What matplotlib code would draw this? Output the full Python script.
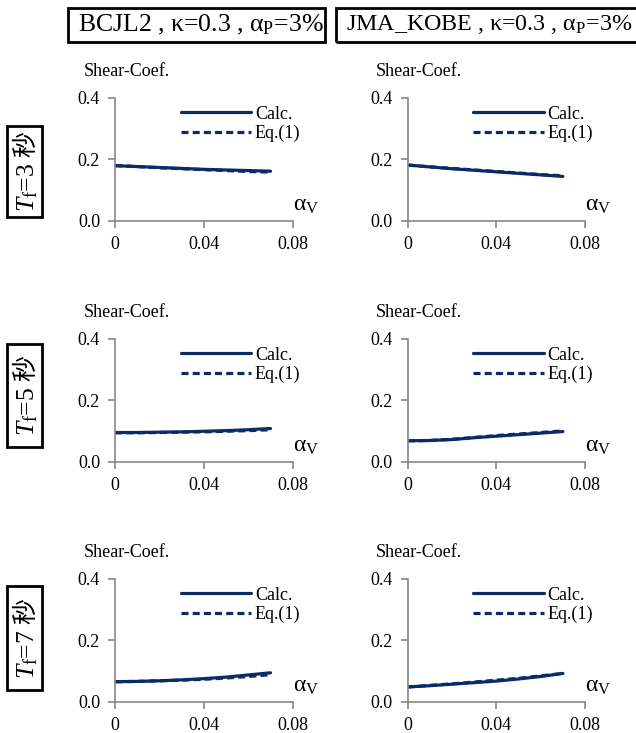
import matplotlib
matplotlib.use("Agg")
import matplotlib.pyplot as plt
from matplotlib.patches import Rectangle
import numpy as np

plt.rcParams['font.family'] = ['Liberation Serif', 'Noto Sans CJK JP']
plt.rcParams['mathtext.fontset'] = 'custom'
plt.rcParams['mathtext.rm'] = 'Liberation Serif'
plt.rcParams['mathtext.it'] = 'Liberation Serif:italic'
plt.rcParams['mathtext.bf'] = 'Liberation Serif:bold'
plt.rcParams['mathtext.sf'] = 'Noto Sans CJK JP'

alpha_v = [0.0, 0.01, 0.02, 0.03, 0.04, 0.05, 0.06, 0.07]

titles = ["BCJL2 , κ=0.3 , α$_\\mathregular{P}$=3%",
          "JMA_KOBE , κ=0.3 , α$_\\mathregular{P}$=3%"]
row_labels = ["3", "5", "7"]

# Calc. and Eq.(1) values: [row][col]
calc = [
    [[0.179, 0.176, 0.173, 0.170, 0.167, 0.165, 0.163, 0.161],
     [0.181, 0.175, 0.169, 0.164, 0.159, 0.154, 0.149, 0.144]],
    [[0.095, 0.095, 0.096, 0.097, 0.099, 0.101, 0.104, 0.108],
     [0.068, 0.069, 0.072, 0.078, 0.083, 0.088, 0.093, 0.098]],
    [[0.065, 0.066, 0.068, 0.071, 0.075, 0.080, 0.087, 0.094],
     [0.048, 0.052, 0.057, 0.062, 0.067, 0.074, 0.082, 0.092]],
]
eq1 = [
    [[0.179, 0.176, 0.172, 0.169, 0.166, 0.163, 0.160, 0.158],
     [0.181, 0.175, 0.170, 0.165, 0.160, 0.155, 0.150, 0.146]],
    [[0.094, 0.094, 0.095, 0.096, 0.097, 0.099, 0.101, 0.104],
     [0.068, 0.069, 0.073, 0.079, 0.085, 0.090, 0.095, 0.100]],
    [[0.065, 0.066, 0.068, 0.070, 0.073, 0.077, 0.082, 0.088],
     [0.048, 0.053, 0.058, 0.064, 0.070, 0.076, 0.084, 0.092]],
]

W, H = 636, 733
fig = plt.figure(figsize=(W / 100, H / 100), dpi=100)

navy = '#0c2a66'
gray = '#878787'

col_x = [115.3, 407.7]
col_w = 177.4
row_bottom = [220.7, 461.7, 701.7]
row_h = 123.0

for r in range(3):
    for c in range(2):
        ax = fig.add_axes([col_x[c] / W, 1 - row_bottom[r] / H, col_w / W, row_h / H])
        ax.plot(alpha_v, calc[r][c], color=navy, lw=2.3, label='Calc.', solid_capstyle='round')
        ax.plot(alpha_v, eq1[r][c], color=navy, lw=2.3, ls=(0, (2.2, 1.3)), label='Eq.(1)')
        ax.set_xlim(0, 0.08)
        ax.set_ylim(0, 0.4)
        ax.set_xticks([0, 0.04, 0.08])
        ax.set_xticklabels(['0', '0.04', '0.08'])
        ax.set_yticks([0, 0.2, 0.4])
        ax.set_yticklabels(['0.0', '0.2', '0.4'])
        for s in ['top', 'right']:
            ax.spines[s].set_visible(False)
        for s in ['left', 'bottom']:
            ax.spines[s].set_color(gray)
            ax.spines[s].set_linewidth(1.2)
        ax.tick_params(direction='out', length=5, width=1.2, color=gray, labelsize=13, pad=6)
        ax.patch.set_alpha(0)
        ax.legend(loc='upper left', bbox_to_anchor=(0.37, 0.935), frameon=False,
                  fontsize=13, handlelength=3.9, handletextpad=0.2,
                  labelspacing=0.12, borderpad=0, borderaxespad=0)
        ax.text(-0.18, 1.21, 'Shear-Coef.', transform=ax.transAxes, fontsize=13,
                ha='left', va='center')
        ax.text(1.0, 0.04, 'α$_\\mathregular{V}$', transform=ax.transAxes, fontsize=17,
                ha='left', va='bottom')


def fig_box(x0, y0, x1, y1):
    fig.patches.append(Rectangle((x0 / W, 1 - y1 / H), (x1 - x0) / W, (y1 - y0) / H,
                                 transform=fig.transFigure, fill=False,
                                 ec='black', lw=2, clip_on=False))


# column titles
fig_box(68, 8, 325, 42)
fig.text(201 / W, 1 - 25 / H, titles[0], fontsize=18.5, ha='center', va='center')
fig_box(336, 8, 642, 42)
fig.text(489 / W, 1 - 25 / H, titles[1], fontsize=17.3, ha='center', va='center')

# row labels
row_boxes = [(126, 217), (344, 447), (586, 690)]
for r in range(3):
    y0, y1 = row_boxes[r]
    fig_box(7, y0, 42, y1)
    fig.text(25 / W, 1 - (y0 + y1) / 2 / H,
             r'$\mathit{T}_\mathrm{f}$' + '=' + row_labels[r] + r' $\mathsf{秒}$',
             fontsize=18.5, rotation=90, ha='center', va='center')

fig.savefig('out.png', dpi=100)
